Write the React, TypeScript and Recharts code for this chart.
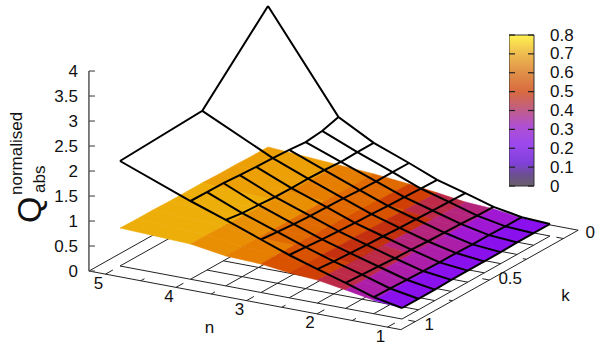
import { Bar, BarChart, Scatter, ScatterChart, XAxis, YAxis } from "recharts";

const FONT = "'Liberation Sans', Arial, sans-serif";

// grid of the surfaces
const nValues = [5, 4, 3.5, 3, 2.6, 2.2, 1.8, 1.4, 1];
const kValues = [0, 0.111, 0.222, 0.333, 0.444, 0.556, 0.667, 0.778, 0.889, 1];

// upper wire surface, one row per n, one column per k (n=5 was only sampled at three k)
const wireRows: (number | null)[][] = [
  [3.54, null, null, null, 2.18, null, null, null, null, 2.1],
  [1.585, 1.49, 1.45, 1.48, 1.5, 1.51, 1.53, 1.556, 1.56, 1.565],
  [1.2, 1.2, 1.19, 1.21, 1.22, 1.22, 1.225, 1.25, 1.27, 1.32],
  [0.93, 0.93, 0.93, 0.94, 0.96, 0.97, 0.98, 1.0, 1.03, 1.06],
  [0.7, 0.71, 0.72, 0.73, 0.75, 0.76, 0.78, 0.8, 0.83, 0.856],
  [0.54, 0.55, 0.56, 0.57, 0.58, 0.6, 0.61, 0.63, 0.65, 0.68],
  [0.37, 0.38, 0.4, 0.41, 0.42, 0.44, 0.45, 0.47, 0.49, 0.51],
  [0.27, 0.27, 0.28, 0.28, 0.29, 0.29, 0.3, 0.31, 0.32, 0.33],
  [0.24, 0.24, 0.24, 0.23, 0.23, 0.23, 0.23, 0.22, 0.22, 0.22],
];

// lower coloured surface
const sheetRows: number[][] = [
  [0.72, 0.72, 0.73, 0.73, 0.74, 0.74, 0.74, 0.75, 0.75, 0.76],
  [0.625, 0.63, 0.64, 0.65, 0.66, 0.67, 0.68, 0.69, 0.7, 0.705],
  [0.58, 0.58, 0.58, 0.585, 0.59, 0.59, 0.59, 0.595, 0.6, 0.6],
  [0.51, 0.52, 0.53, 0.54, 0.55, 0.56, 0.56, 0.57, 0.57, 0.57],
  [0.44, 0.45, 0.46, 0.47, 0.47, 0.48, 0.48, 0.49, 0.49, 0.5],
  [0.36, 0.37, 0.38, 0.39, 0.4, 0.41, 0.42, 0.43, 0.45, 0.46],
  [0.33, 0.33, 0.33, 0.34, 0.34, 0.35, 0.35, 0.36, 0.36, 0.37],
  [0.25, 0.25, 0.25, 0.26, 0.26, 0.26, 0.26, 0.27, 0.27, 0.27],
  [0.24, 0.24, 0.24, 0.23, 0.23, 0.23, 0.23, 0.22, 0.22, 0.22],
];

const nTicks = [5, 4, 3, 2, 1];
const nMinorTicks = [4.5, 3.5, 2.5, 1.5];
const kTicks = [1, 0.5, 0];
const kMinorTicks = [0.75, 0.25];
const zTicks = [0, 0.5, 1, 1.5, 2, 2.5, 3, 3.5, 4];
const barTicks = [0, 0.1, 0.2, 0.3, 0.4, 0.5, 0.6, 0.7, 0.8];

const nRange = [0.81, 5.235];
const kRange = [-0.1, 1.098];
const zTop = 4;

// colour of a surface cell by its mean height
const sheetColors: [number, string][] = [
  [0.26, "#8a10ee"],
  [0.3, "#a018d4"],
  [0.34, "#ac1ea8"],
  [0.38, "#b4247c"],
  [0.42, "#bc2a48"],
  [0.46, "#c4300f"],
  [0.5, "#d04004"],
  [0.54, "#d85200"],
  [0.58, "#e06a00"],
  [0.62, "#e67e02"],
  [0.66, "#e98f04"],
  [0.7, "#eca006"],
  [1, "#eeae0a"],
];

const barStops: [number, string][] = [
  [0, "#6a5f6a"],
  [0.06, "#6b4f90"],
  [0.12, "#8040d8"],
  [0.22, "#9c48ee"],
  [0.32, "#b050d0"],
  [0.42, "#c4607a"],
  [0.5, "#d86a40"],
  [0.6, "#e09048"],
  [0.7, "#eebc50"],
  [0.8, "#fff250"],
];

// oblique view of the gnuplot box onto the page
const project = (n: number, k: number, z = 0) => ({
  x: 120 + 70.5 * (5 - n) + 148 * (1 - k),
  y: 266 + 13.25 * (5 - n) - 83 * (1 - k) - 50 * z,
});

const cellColor = (z: number) => sheetColors.find(([top]) => z < top)![1];

const hidden = () => <g />;

const path = (key: string, points: any[], stroke = "#000", width = 2) => (
  <Scatter
    key={key}
    data={points}
    dataKey="y"
    isAnimationActive={false}
    shape={hidden}
    line={{ stroke, strokeWidth: width, fill: "none" }}
    lineType="joint"
  />
);

const sheetCells: { color: string; points: any[] }[] = [];
nValues.slice(0, -1).forEach((n, i) => {
  kValues.slice(0, -1).forEach((k, j) => {
    const n2 = nValues[i + 1];
    const k2 = kValues[j + 1];
    const a = sheetRows[i][j];
    const b = sheetRows[i][j + 1];
    const c = sheetRows[i + 1][j + 1];
    const d = sheetRows[i + 1][j];
    sheetCells.push({
      color: cellColor((a + b + c + d) / 4),
      points: [project(n, k, a), project(n, k2, b), project(n2, k2, c), project(n2, k, d), project(n, k, a)],
    });
  });
});

const wirePaths: any[][] = [
  ...nValues.map((n, i) =>
    kValues.flatMap((k, j) => (wireRows[i][j] == null ? [] : [project(n, k, wireRows[i][j] as number)]))
  ),
  ...kValues.map((k, j) =>
    nValues.flatMap((n, i) => (wireRows[i][j] == null ? [] : [project(n, k, wireRows[i][j] as number)]))
  ),
];

// same mesh laid on the floor of the box
const floorPaths: any[][] = [
  ...nValues.map((n) => [project(n, 0), project(n, 1)]),
  ...kValues.map((k, j) => [project(wireRows[0][j] == null ? nValues[1] : nValues[0], k), project(1, k)]),
];

const boxPath = [
  project(nRange[1], kRange[1]),
  project(nRange[0], kRange[1]),
  project(nRange[0], kRange[0]),
  project(nRange[1], kRange[0]),
  project(nRange[1], kRange[1]),
];

const tickPaths: any[][] = [
  ...nTicks.map((n) => [project(n, kRange[1]), project(n, kRange[1] - 0.05)]),
  ...nMinorTicks.map((n) => [project(n, kRange[1]), project(n, kRange[1] - 0.025)]),
  ...kTicks.map((k) => [project(nRange[0], k), project(nRange[0] + 0.1, k)]),
  ...kMinorTicks.map((k) => [project(nRange[0], k), project(nRange[0] + 0.05, k)]),
];

const zAxisBase = project(nRange[1], kRange[1]);
const zPoint = (z: number, dx = 0) => ({ x: zAxisBase.x + dx, y: zAxisBase.y - 50 * z });

const label = (key: string, at: any, text: string, anchor = "middle", dx = 0, dy = 0) => (
  <Scatter
    key={key}
    data={[at]}
    dataKey="y"
    isAnimationActive={false}
    shape={(p: any) => (
      <text
        x={p.cx + dx}
        y={p.cy + dy}
        fontFamily={FONT}
        fontSize={17}
        fill="#111"
        textAnchor={anchor}
        dominantBaseline="central"
      >
        {text}
      </text>
    )}
  />
);

const kLabelDx = (k: number) => (k === 0 ? 22 : 9);
const kLabelDy = (k: number) => (k === 0 ? -6 : k === 0.5 ? -2 : 3);

const BarTick = ({ x, y, payload }: any) => (
  <g>
    <line x1={x - 33} x2={x - 27} y1={y} y2={y} stroke="#222" strokeWidth={1.2} />
    <line x1={x - 14} x2={x - 8} y1={y} y2={y} stroke="#222" strokeWidth={1.2} />
    <text x={x + 8} y={y} fontFamily={FONT} fontSize={17} fill="#111" dominantBaseline="central">
      {payload.value}
    </text>
  </g>
);

const barData = [{ name: "Q", value: barTicks[barTicks.length - 1] }];

export default function App() {
  return (
    <div style={{ position: "absolute", left: 0, top: 0, width: 600, height: 346, background: "#fff" }}>
      <ScatterChart width={600} height={346} margin={{ top: 0, right: 0, bottom: 0, left: 0 }}>
        <XAxis type="number" dataKey="x" domain={[0, 600]} hide />
        <YAxis type="number" dataKey="y" domain={[0, 346]} reversed hide />

        {path("box", boxPath, "#222", 1)}
        {floorPaths.map((points, i) => path(`f${i}`, points, "#222", 1))}
        {tickPaths.map((points, i) => path(`t${i}`, points, "#222", 1))}

        {sheetCells.map((cell, i) => (
          <Scatter
            key={`c${i}`}
            data={cell.points}
            dataKey="y"
            isAnimationActive={false}
            shape={hidden}
            line={{ stroke: cell.color, strokeWidth: 0.6, fill: cell.color }}
            lineType="joint"
          />
        ))}

        {wirePaths.map((points, i) => path(`w${i}`, points, "#000", 2))}

        {path("zaxis", [zPoint(0), zPoint(zTop)], "#555", 1.5)}
        {zTicks.map((z) => path(`zt${z}`, [zPoint(z), zPoint(z, 6)], "#555", 1.2))}
        {zTicks.map((z) => label(`zl${z}`, zPoint(z), String(z), "end", -11))}
        {nTicks.map((n) => label(`nl${n}`, project(n, kRange[1]), String(n), "middle", -7, 9))}
        {kTicks.map((k) => label(`kl${k}`, project(nRange[0], k), String(k), "start", kLabelDx(k), kLabelDy(k)))}
        {label("ntitle", project(3, kRange[1]), "n", "middle", -37, 27)}
        {label("ktitle", project(nRange[0], 0.5), "k", "middle", 76, 15)}

        <text transform="translate(41,223) rotate(-90)" fontFamily={FONT} fontSize={34} fill="#111">
          Q
        </text>
        <text transform="translate(22,195) rotate(-90)" fontFamily={FONT} fontSize={17} fill="#111">
          normalised
        </text>
        <text transform="translate(45,193) rotate(-90)" fontFamily={FONT} fontSize={17} fill="#111">
          abs
        </text>
      </ScatterChart>

      <div style={{ position: "absolute", left: 509, top: 25, width: 91, height: 171 }}>
        <BarChart
          width={91}
          height={171}
          data={barData}
          barCategoryGap={0}
          margin={{ top: 10, right: 0, bottom: 10, left: 0 }}
        >
          <defs>
            <linearGradient id="barFill" x1="0" y1="1" x2="0" y2="0">
              {barStops.map(([v, color]) => (
                <stop key={v} offset={v / 0.8} stopColor={color} />
              ))}
            </linearGradient>
          </defs>
          <XAxis dataKey="name" hide />
          <YAxis
            orientation="right"
            width={66}
            domain={[0, 0.8]}
            ticks={barTicks}
            interval={0}
            axisLine={false}
            tickLine={false}
            tick={<BarTick />}
          />
          <Bar dataKey="value" fill="url(#barFill)" stroke="#333" strokeWidth={1} isAnimationActive={false} />
        </BarChart>
      </div>
    </div>
  );
}
